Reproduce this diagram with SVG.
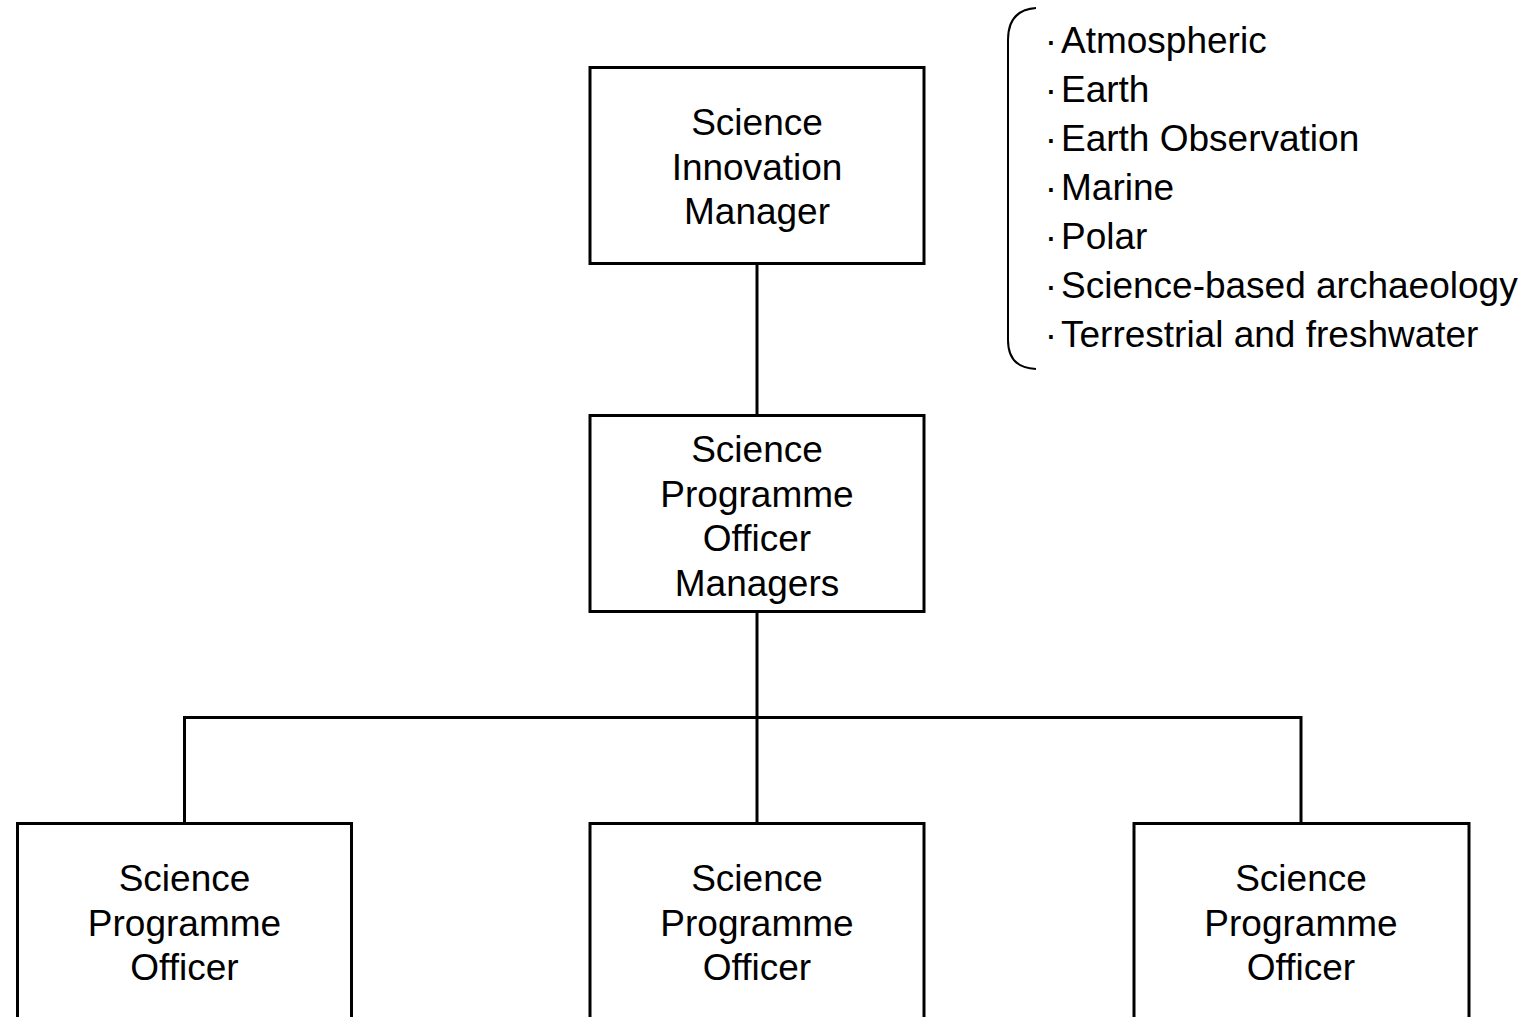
<svg xmlns="http://www.w3.org/2000/svg" width="1527" height="1017" viewBox="0 0 1527 1017">
<style>
.box{fill:#fff;stroke:#000;stroke-width:3}
.ln{fill:none;stroke:#000;stroke-width:3}
.t{font-family:"Liberation Sans",Arial,sans-serif;font-size:37px;fill:#000;text-anchor:middle}
.l{font-family:"Liberation Sans",Arial,sans-serif;font-size:37px;fill:#000}
.d{font-family:"Liberation Sans",Arial,sans-serif;font-size:37px;fill:#000;text-anchor:middle}
</style>
<rect width="1527" height="1017" fill="#fff"/>
<g id="connectors">
<line class="ln" x1="757" y1="263.5" x2="757" y2="415.5"/>
<line class="ln" x1="757" y1="611.5" x2="757" y2="823.5"/>
<polyline class="ln" points="184.5,823.5 184.5,717.5 1301,717.5 1301,823.5"/>
</g>
<g id="n1">
<rect class="box" x="590" y="67.5" width="334" height="196"/>
<text class="t"><tspan x="757" y="135">Science</tspan><tspan x="757" y="179.5">Innovation</tspan><tspan x="757" y="224">Manager</tspan></text>
</g>
<g id="n2">
<rect class="box" x="590" y="415.5" width="334" height="196"/>
<text class="t"><tspan x="757" y="462">Science</tspan><tspan x="757" y="506.5">Programme</tspan><tspan x="757" y="551">Officer</tspan><tspan x="757" y="595.5">Managers</tspan></text>
</g>
<g id="n3">
<rect class="box" x="17.5" y="823.5" width="334" height="220"/>
<text class="t"><tspan x="184.5" y="891">Science</tspan><tspan x="184.5" y="935.5">Programme</tspan><tspan x="184.5" y="980">Officer</tspan></text>
</g>
<g id="n4">
<rect class="box" x="590" y="823.5" width="334" height="220"/>
<text class="t"><tspan x="757" y="891">Science</tspan><tspan x="757" y="935.5">Programme</tspan><tspan x="757" y="980">Officer</tspan></text>
</g>
<g id="n5">
<rect class="box" x="1134" y="823.5" width="335" height="220"/>
<text class="t"><tspan x="1301" y="891">Science</tspan><tspan x="1301" y="935.5">Programme</tspan><tspan x="1301" y="980">Officer</tspan></text>
</g>
<g id="list">
<path d="M1036,8 Q1008,10 1008,40 L1008,340 Q1008,368 1036,369" fill="none" stroke="#000" stroke-width="2"/>
<g class="d"><text x="1051" y="53">·</text><text x="1051" y="102">·</text><text x="1051" y="151">·</text><text x="1051" y="200">·</text><text x="1051" y="249">·</text><text x="1051" y="298">·</text><text x="1051" y="347">·</text></g>
<text class="l" x="1061" y="53">Atmospheric</text>
<text class="l" x="1061" y="102">Earth</text>
<text class="l" x="1061" y="151">Earth Observation</text>
<text class="l" x="1061" y="200">Marine</text>
<text class="l" x="1061" y="249">Polar</text>
<text class="l" x="1061" y="298">Science-based archaeology</text>
<text class="l" x="1061" y="347">Terrestrial and freshwater</text>
</g>
</svg>
